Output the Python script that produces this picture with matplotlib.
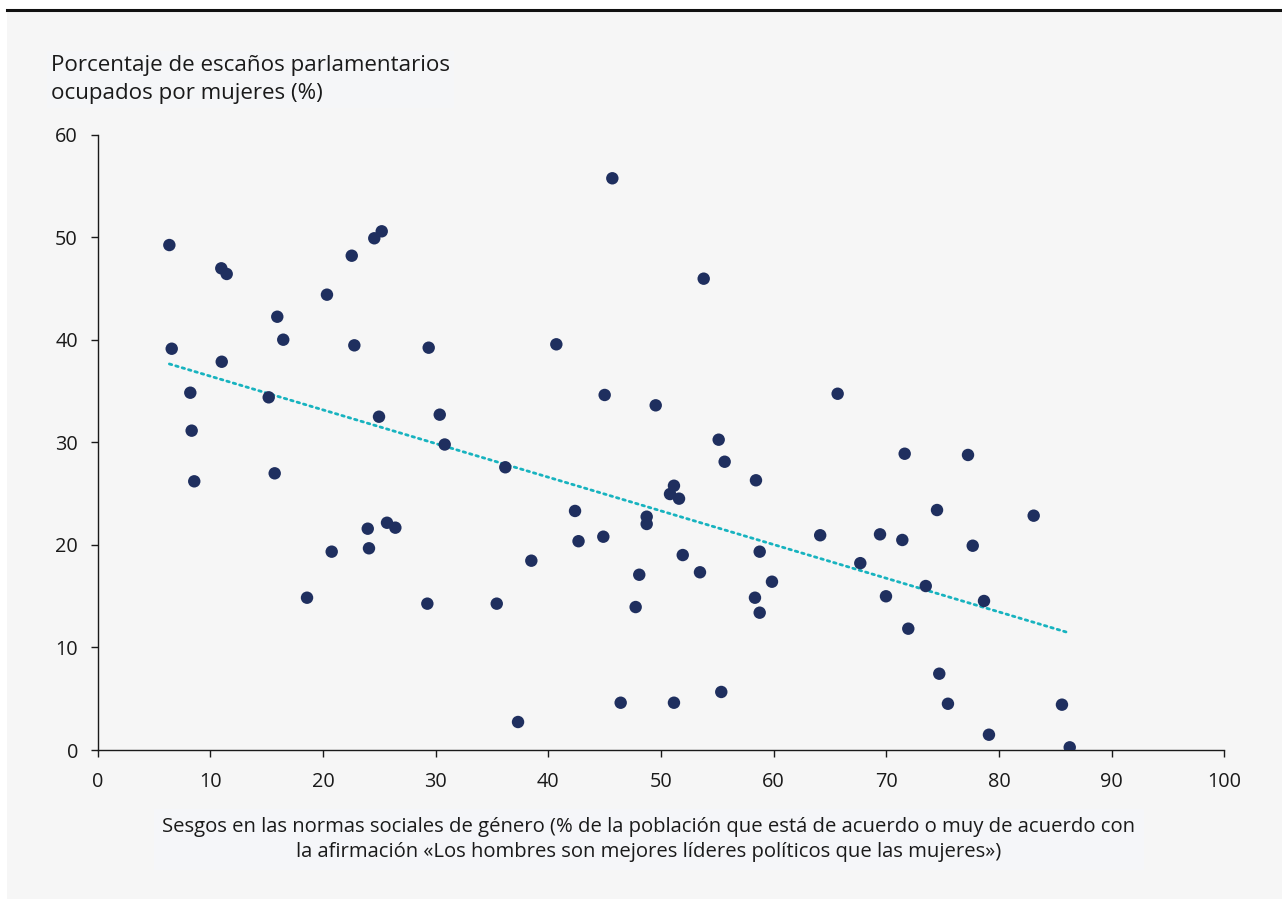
import numpy as np
import matplotlib
matplotlib.use("Agg")
import matplotlib.pyplot as plt
from matplotlib.patches import Rectangle
from matplotlib.lines import Line2D

plt.rcParams['font.family'] = ['Open Sans', 'DejaVu Sans']

# Gender social norms bias (% agreeing that men make better political leaders)
bias_pct = [
    6.36, 6.57, 8.22, 8.34, 8.57, 10.97, 11.45, 11.01, 15.18, 15.94,
    16.47, 15.71, 18.58, 20.35, 20.77, 22.55, 22.78, 24.55, 25.21, 24.97,
    23.97, 24.08, 25.68, 26.42, 29.38, 29.26, 30.36, 30.80, 35.42, 36.18,
    37.31, 38.49, 40.71, 42.37, 42.68, 45.00, 44.88, 45.68, 46.42, 47.75,
    48.07, 48.73, 48.73, 49.53, 50.80, 51.15, 51.60, 51.15, 51.93, 53.46,
    53.79, 55.12, 55.35, 55.65, 58.43, 58.34, 58.76, 58.76, 59.85, 64.13,
    65.68, 67.69, 69.44, 69.97, 71.42, 71.63, 71.95, 73.50, 74.50, 74.70,
    75.47, 77.25, 77.67, 78.67, 79.11, 83.08, 85.59, 86.28,
]

# Share of parliamentary seats held by women (%)
seats_pct = [
    49.24, 39.13, 34.84, 31.14, 26.20, 46.97, 46.42, 37.86, 34.39, 42.25,
    40.01, 26.98, 14.85, 44.40, 19.34, 48.20, 39.46, 49.90, 50.58, 32.50,
    21.58, 19.67, 22.16, 21.68, 39.23, 14.27, 32.70, 29.79, 14.27, 27.57,
    2.73, 18.46, 39.56, 23.31, 20.36, 34.62, 20.80, 55.75, 4.61, 13.94,
    17.09, 22.75, 22.04, 33.61, 24.96, 25.77, 24.51, 4.61, 19.01, 17.33,
    45.96, 30.26, 5.66, 28.11, 26.30, 14.85, 19.34, 13.39, 16.41, 20.94,
    34.74, 18.22, 21.03, 14.99, 20.48, 28.89, 11.83, 15.99, 23.40, 7.44,
    4.51, 28.77, 19.92, 14.53, 1.49, 22.85, 4.42, 0.26,
]

x_ticks = [0, 10, 20, 30, 40, 50, 60, 70, 80, 90, 100]
y_ticks = [0, 10, 20, 30, 40, 50, 60]

y_title = "Porcentaje de escaños parlamentarios\nocupados por mujeres (%)"
x_title = ("Sesgos en las normas sociales de género (% de la población que está de acuerdo o muy de acuerdo con\n"
           "la afirmación «Los hombres son mejores líderes políticos que las mujeres»)")

BG = "#f6f6f6"
DOT = "#1f2f5f"
TREND = "#17b3bf"
INK = "#1a1a1a"

W, H = 1282, 899
fig = plt.figure(figsize=(W / 100, H / 100), dpi=100, facecolor="white")

# Panel background and top rule
fig.patches.append(Rectangle((7 / W, 0.0), 1 - 7 / W, 1 - 11 / H,
                             transform=fig.transFigure, facecolor=BG,
                             edgecolor="none", zorder=-10))
fig.lines.append(Line2D([7 / W, 1.0], [1 - 10 / H, 1 - 10 / H],
                        transform=fig.transFigure, color="#111111",
                        linewidth=2.2, zorder=-9))

ax = fig.add_axes([97.7 / W, 149 / H, (1224.3 - 97.7) / W, (750 - 134.7) / H])
ax.set_zorder(2)
ax.patch.set_alpha(0)

ax.scatter(bias_pct, seats_pct, s=80, color=DOT, edgecolors="none", zorder=3)

# Least-squares trend line across the observed range
xa = np.asarray(bias_pct)
ya = np.asarray(seats_pct)
slope, intercept = np.polyfit(xa, ya, 1)
xs = np.array([xa.min(), xa.max()])
ax.plot(xs, intercept + slope * xs, color=TREND, linewidth=2.0,
        linestyle=(0, (0.9, 1.5)), dash_capstyle="round", zorder=2)

ax.set_xlim(0, 100)
ax.set_ylim(0, 60)
ax.set_xticks(x_ticks)
ax.set_yticks(y_ticks)

for side in ("top", "right"):
    ax.spines[side].set_visible(False)
for side in ("left", "bottom"):
    ax.spines[side].set_linewidth(1.0)
    ax.spines[side].set_color(INK)

ax.tick_params(axis="both", direction="out", length=5.2, width=1.0,
               colors=INK, labelsize=14.3, labelcolor=INK)
ax.tick_params(axis="y", pad=9)
ax.tick_params(axis="x", pad=10.5)

fig.text(51 / W, 1 - 55 / H, y_title, ha="left", va="top", fontsize=16.1,
         color=INK, linespacing=1.42,
         bbox=dict(facecolor="#f5f6f8", edgecolor="none", pad=3))

fig.text(649 / W, 1 - 817 / H, x_title, ha="center", va="top", fontsize=14.6,
         color=INK, linespacing=1.32,
         bbox=dict(facecolor="#f5f6f9", edgecolor="none", pad=6))

fig.savefig("out.png", dpi=100, facecolor="white")
